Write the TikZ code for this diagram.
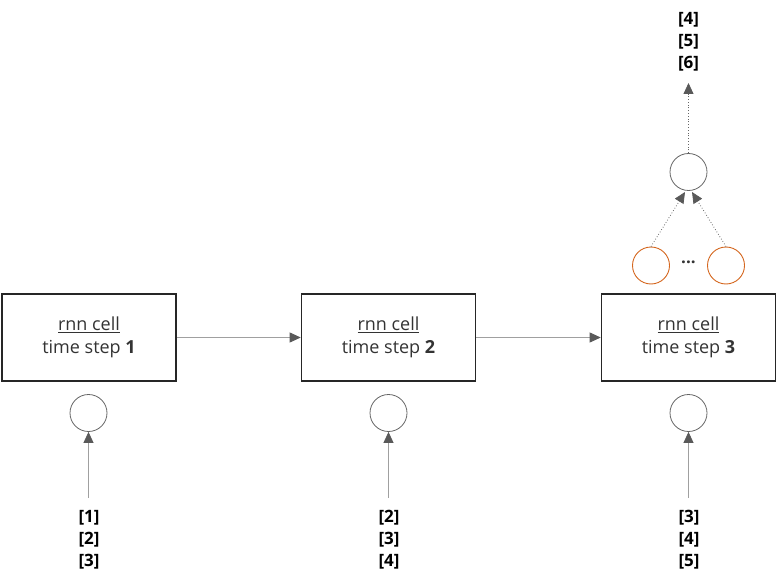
\documentclass[tikz,border=0pt]{standalone}
\usepackage{fontspec}
\setmainfont{Open Sans}
\usetikzlibrary{arrows.meta}
\definecolor{boxline}{HTML}{262626}
\definecolor{txt}{HTML}{333333}
\definecolor{circ}{HTML}{666666}
\definecolor{conn}{HTML}{A0A0A0}
\definecolor{tip}{HTML}{595959}
\definecolor{orng}{HTML}{D4661E}
\begin{document}
\begin{tikzpicture}[x=1pt,y=-1pt,
  cellbox/.style={draw=boxline,line width=1.6pt,minimum width=174pt,minimum height=87pt,inner sep=0pt,align=center,text=txt,font=\fontsize{18}{23}\selectfont},
  hcirc/.style={circle,draw=circ,line width=0.8pt,minimum size=37pt,inner sep=0pt},
  ocirc/.style={circle,draw=orng,line width=0.9pt,minimum size=37pt,inner sep=0pt},
  lbl/.style={align=center,font=\fontsize{17}{22}\selectfont\bfseries,text=black,inner sep=0pt},
  conarrow/.style={draw=conn,line width=0.8pt,-{Triangle[length=11pt,width=10pt,color=tip]}},
  dotarrow/.style={draw=circ,line width=0.8pt,dotted,-{Triangle[length=11pt,width=10pt,color=tip]}}
]
\useasboundingbox (0,0) rectangle (777,583);
\node[cellbox] (c1) at (89,337.5) {\underline{rnn cell}\\time step \textbf{1}};
\node[cellbox] (c2) at (388.5,337.5) {\underline{rnn cell}\\time step \textbf{2}};
\node[cellbox] (c3) at (688.5,337.5) {\underline{rnn cell}\\time step \textbf{3}};
\draw[conarrow] (c1.east) -- (c2.west);
\draw[conarrow] (c2.east) -- (c3.west);
\node[hcirc] (x1) at (88.5,413) {};
\node[hcirc] (x2) at (388.5,413) {};
\node[hcirc] (x3) at (688.5,413) {};
\node[lbl] (i1) at (89,540) {[1]\\{}[2]\\{}[3]};
\node[lbl] (i2) at (389,540) {[2]\\{}[3]\\{}[4]};
\node[lbl] (i3) at (689,540) {[3]\\{}[4]\\{}[5]};
\coordinate (s1) at (88.5,498);
\coordinate (s2) at (388.5,498);
\coordinate (s3) at (688.5,498);
\draw[conarrow] (s1) -- (x1.south);
\draw[conarrow] (s2) -- (x2.south);
\draw[conarrow] (s3) -- (x3.south);
\node[ocirc] (h1) at (651,265.5) {};
\node[ocirc] (h2) at (726,265.5) {};
\node[font=\fontsize{17}{18}\selectfont\bfseries,text=txt] (dots) at (688.5,262) {...};
\node[hcirc] (y) at (688.5,172) {};
\coordinate (yl) at (685,192);
\coordinate (yr) at (692,192);
\draw[dotarrow] (h1.north) -- (yl);
\draw[dotarrow] (h2.north) -- (yr);
\node[lbl] (out) at (688.5,42) {[4]\\{}[5]\\{}[6]};
\coordinate (ot) at (688.5,83);
\draw[dotarrow] (y.north) -- (ot);
\end{tikzpicture}
\end{document}
